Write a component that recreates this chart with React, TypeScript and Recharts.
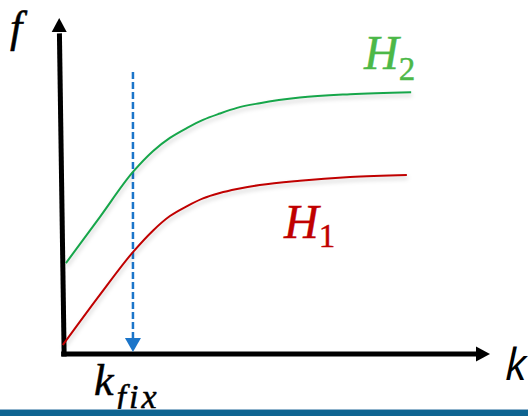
import { LineChart, Line, XAxis, YAxis, ReferenceLine, ReferenceDot } from 'recharts';

// sample points along each curve (k, f)
const kGreen = [0.09, 0.88, 1.65, 2.12, 2.51, 2.91, 3.28, 3.67, 4.07, 4.6, 5.53, 6.7, 8.12];
const fGreen = [2.72, 4.1, 5.45, 6.08, 6.47, 6.77, 7.01, 7.2, 7.37, 7.51, 7.68, 7.78, 7.84];
const kRed = [0.02, 0.88, 1.65, 2.12, 2.51, 2.91, 3.28, 3.67, 4.07, 4.6, 5.53, 6.7, 8.02];
const fRed = [0.27, 1.77, 3.05, 3.7, 4.13, 4.43, 4.66, 4.82, 4.94, 5.06, 5.19, 5.3, 5.36];

const kFix = 1.65;
const fFixTop = 8.44;
const axisMax = 10;

const h2Data = kGreen.map((k, i) => ({ k, f: fGreen[i] }));
const h1Data = kRed.map((k, i) => ({ k, f: fRed[i] }));

const mathFont = 'Liberation Serif';
const sansFont = 'Open Sans';

const ArrowRight = ({ cx, cy }: any) => (
  <polygon points={`${cx - 2},${cy} ${cx - 16},${cy - 7.5} ${cx - 16},${cy + 7.5}`} fill="#000" />
);
const ArrowUp = ({ cx, cy }: any) => (
  <polygon points={`${cx},${cy - 2} ${cx - 7.5},${cy + 12} ${cx + 7.5},${cy + 12}`} fill="#000" />
);
const ArrowDown = ({ cx, cy }: any) => (
  <polygon points={`${cx},${cy - 2} ${cx - 8},${cy - 16} ${cx + 8},${cy - 16}`} fill="#1b75c9" />
);

export default function App() {
  return (
    <div style={{ position: 'fixed', left: 0, top: 0, width: 528, height: 416, background: '#fff' }}>
      <style>{`.shade .recharts-line-curve { filter: drop-shadow(1px 3px 2px rgba(0,0,0,0.2)); }`}</style>
      <LineChart width={528} height={416} margin={{ top: 20, right: 36, bottom: 62, left: 62 }}>
        <XAxis type="number" dataKey="k" domain={[0, axisMax]} hide />
        <YAxis type="number" dataKey="f" domain={[0, axisMax]} hide width={0} />

        {/* axes with arrowheads; the f axis leans slightly left */}
        <ReferenceLine
          segment={[{ x: -0.02, y: 0 }, { x: 9.75, y: 0 }]}
          stroke="#000"
          strokeWidth={5}
          ifOverflow="visible"
        />
        <ReferenceLine
          segment={[{ x: 0.05, y: -0.075 }, { x: -0.06, y: 9.6 }]}
          stroke="#000"
          strokeWidth={5}
          ifOverflow="visible"
        />
        <ReferenceDot x={axisMax} y={0} r={1} shape={ArrowRight} ifOverflow="visible" />
        <ReferenceDot x={-0.065} y={axisMax} r={1} shape={ArrowUp} ifOverflow="visible" />

        {/* fixed k marker */}
        <ReferenceLine
          segment={[{ x: kFix, y: fFixTop }, { x: kFix, y: 0.45 }]}
          stroke="#1b75c9"
          strokeWidth={2.5}
          strokeDasharray="7 3"
          ifOverflow="visible"
        />
        <ReferenceDot x={kFix} y={0} r={1} shape={ArrowDown} ifOverflow="visible" />

        <Line
          className="shade"
          data={h2Data}
          dataKey="f"
          type="monotone"
          stroke="#16a64a"
          strokeWidth={2}
          dot={false}
          isAnimationActive={false}
        />
        <Line
          className="shade"
          data={h1Data}
          dataKey="f"
          type="monotone"
          stroke="#c00000"
          strokeWidth={2}
          dot={false}
          isAnimationActive={false}
        />
      </LineChart>

      {/* math labels on top of the chart */}
      <svg width={528} height={416} style={{ position: 'absolute', left: 0, top: 0, pointerEvents: 'none' }}>
        <text x={10} y={42} fontFamily={mathFont} fontStyle="italic" fontSize={44} fill="#000" stroke="#000" strokeWidth={0.5}>f</text>
        <text x={364} y={69} fontFamily={mathFont} fill="#4cb848" stroke="#4cb848" strokeWidth={0.4}>
          <tspan fontStyle="italic" fontSize={48}>H</tspan>
          <tspan fontSize={33} dy={11}>2</tspan>
        </text>
        <text x={284} y={238} fontFamily={mathFont} fill="#c00000" stroke="#c00000" strokeWidth={0.4}>
          <tspan fontStyle="italic" fontSize={48}>H</tspan>
          <tspan fontSize={33} dy={9}>1</tspan>
        </text>
        <text x={505} y={380} fontFamily={sansFont} fontStyle="italic" fontSize={44} fill="#000">k</text>
        <text x={94} y={395} fontFamily={mathFont} fill="#000" stroke="#000" strokeWidth={0.5}>
          <tspan fontStyle="italic" fontSize={44}>k</tspan>
          <tspan fontStyle="italic" fontSize={34} letterSpacing={3} dx={3} dy={13}>fix</tspan>
        </text>
      </svg>
      <div style={{ position: 'absolute', left: 0, top: 409, width: 528, height: 1, background: '#8fb3cc' }} />
      <div style={{ position: 'absolute', left: 0, top: 410, width: 528, height: 6, background: '#0e6491' }} />
    </div>
  );
}
